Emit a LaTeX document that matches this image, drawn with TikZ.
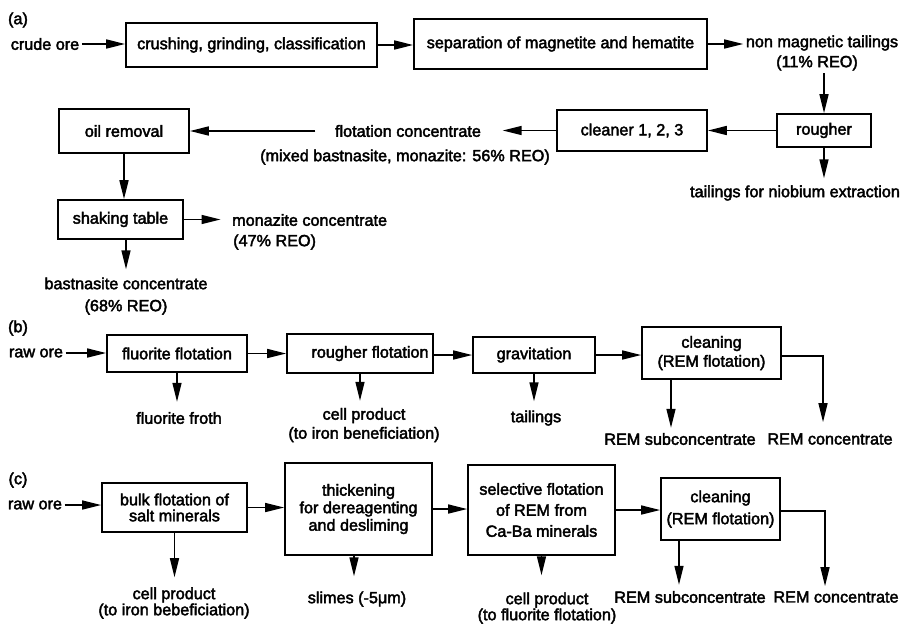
\documentclass[tikz,border=0pt]{standalone}
\usepackage{fontspec}
\setmainfont{Liberation Sans}[FakeBold=2.5]
\usetikzlibrary{arrows.meta}
\newcommand{\fs}[1]{\fontsize{16.2}{#1}\selectfont}
\begin{document}
\begin{tikzpicture}[x=1pt,y=-1pt,
  txt/.style={font=\fs{19}, inner sep=2.5pt, align=center},
  stage/.style={txt, draw, line width=1.7pt, inner sep=0pt},
  arr/.style={line width=1.5pt, -{Triangle[length=19pt,width=9pt]}}]
\fill[white] (0,0) rectangle (903,629);
\useasboundingbox (0,0) rectangle (903,629);

% ---------------- (a) ----------------
\node[txt] (la) at (18,20) {(a)};
\node[txt] (crude) at (45,44) {crude ore};
\node[stage, minimum width=251pt, minimum height=44pt] (a1) at (251.5,45) {crushing, grinding, classification};
\node[stage, minimum width=293pt, minimum height=50pt] (a2) at (560.5,44) {separation of magnetite and hematite};
\node[txt] (nmt1) at (822,43) {non magnetic tailings};
\node[txt] (nmt2) at (817,63) {(11\% REO)};
\node[stage, minimum width=94pt, minimum height=33pt] (a3) at (824,130.5) {rougher};
\node[txt] (nb) at (795,193) {tailings for niobium extraction};
\node[stage, minimum width=150pt, minimum height=41pt] (a4) at (632,130.5) {cleaner 1, 2, 3};
\node[txt] (fc1) at (408,131) {flotation concentrate};
\node[txt] (fc2) at (405,157) {(mixed bastnasite, monazite: 56\% REO)};
\node[stage, minimum width=130pt, minimum height=44pt] (a5) at (124,131) {oil removal};
\node[stage, minimum width=125pt, minimum height=39pt] (a6) at (120.5,219.5) {shaking table};
\node[txt, anchor=west] (mon1) at (229.5,220) {monazite concentrate};
\node[txt, anchor=west] (mon2) at (230.5,242) {(47\% REO)};
\node[txt, font=\fs{22}] (bas) at (126,296) {bastnasite concentrate\\(68\% REO)};

\draw[arr] (crude.east) -- (crude.east -| a1.west);
\draw[arr] (a1.east) -- (a1.east -| a2.west);
\draw[arr] (a2.east) -- (a2.east -| nmt1.west);
\draw[arr] (nmt2.south -| a3.north) -- (a3.north);
\draw[arr, shorten >=4.5pt] (a3.south) -- (a3.south |- nb.north);
\draw[arr] (a3.west) -- (a3.west -| a4.east);
\draw[arr, shorten >=19pt] (a4.west) -- (a4.west -| fc1.east);
\draw[arr, shorten <=17pt] (fc1.west) -- (fc1.west -| a5.east);
\draw[arr] (a5.south) -- (a5.south |- a6.north);
\draw[arr, shorten >=9pt] (a6.east) -- (a6.east -| mon1.west);
\draw[arr, shorten >=5.5pt] (a6.south -| bas.north) -- (bas.north);

% ---------------- (b) ----------------
\node[txt] (lb) at (18,328) {(b)};
\node[txt] (raw1) at (36,353) {raw ore};
\node[stage, minimum width=140pt, minimum height=37pt] (b1) at (177,353.5) {fluorite flotation};
\node[stage, minimum width=146pt, minimum height=39pt] (b2) at (360,353.5) {\hspace*{20pt}rougher flotation};
\node[stage, minimum width=122pt, minimum height=36pt] (b3) at (534,355) {gravitation};
\node[stage, minimum width=139pt, minimum height=52pt] (b4) at (711.5,353) {cleaning\\(REM flotation)};
\node[txt] (ff) at (179,418) {fluorite froth};
\node[txt] (cp1) at (364,425) {cell product\\(to iron beneficiation)};
\node[txt] (tail) at (536,418) {tailings};
\node[txt] (bsub) at (680,439) {REM subconcentrate};
\node[txt] (bcon) at (830,439) {REM concentrate};
\coordinate (bd) at (671,0);
\coordinate (br) at (823,356);

\draw[arr] (raw1.east) -- (raw1.east -| b1.west);
\draw[arr] (b1.east) -- (b1.east -| b2.west);
\draw[arr] (b3.west -| b2.east) -- (b3.west);
\draw[arr] (b3.east) -- (b3.east -| b4.west);
\draw[arr, shorten >=7.5pt] (b1.south) -- (b1.south |- ff.north);
\draw[arr, shorten >=4.5pt] (b2.south) -- (b2.south |- cp1.north);
\draw[arr, shorten >=6.5pt] (b3.south) -- (b3.south |- tail.north);
\draw[arr, shorten >=2.5pt] (b4.south -| bd) -- (bd |- bsub.north);
\draw[arr, shorten >=8.5pt] (b4.east |- br) -| (br |- bcon.north);

% ---------------- (c) ----------------
\node[txt] (lc) at (18,480) {(c)};
\node[txt] (raw2) at (35,505) {raw ore};
\node[stage, minimum width=145pt, minimum height=49pt, font=\fs{16}] (c1) at (174.5,507.5) {bulk flotation of\\salt minerals};
\node[stage, minimum width=147pt, minimum height=92pt, font=\fs{17.5}] (c2) at (358.5,509) {thickening\\for dereagenting\\and desliming};
\node[stage, minimum width=147pt, minimum height=90pt, font=\fs{21}] (c3) at (541.5,510) {selective flotation\\of REM from\\Ca-Ba minerals};
\node[stage, minimum width=119pt, minimum height=62pt, font=\fs{22}] (c4) at (720.5,509) {cleaning\\(REM flotation)};
\node[txt, font=\fs{15}] (cp2) at (174,603) {cell product\\(to iron bebeficiation)};
\node[txt] (slimes) at (357,599) {slimes (-5μm)};
\node[txt, font=\fs{16}] (cp3) at (547,608) {cell product\\(to fluorite flotation)};
\node[txt] (csub) at (690,597) {REM subconcentrate};
\node[txt] (ccon) at (836,597) {REM concentrate};
\coordinate (cd2) at (354,0);
\coordinate (cd4) at (679,0);
\coordinate (cr4) at (825,511);

\draw[arr] (raw2.east) -- (raw2.east -| c1.west);
\draw[arr] (c1.east) -- (c1.east -| c2.west);
\draw[arr] (c2.east) -- (c2.east -| c3.west);
\draw[arr] (c3.east) -- (c3.east -| c4.west);
\draw[arr, shorten >=7.5pt] (c1.south) -- (c1.south |- cp2.north);
\draw[arr, shorten >=12.5pt] (c2.south -| cd2) -- (cd2 |- slimes.north);
\draw[arr, shorten >=14.5pt] (c3.south) -- (c3.south |- cp3.north);
\draw[arr, shorten >=3.5pt] (c4.south -| cd4) -- (cd4 |- csub.north);
\draw[arr, shorten >=2.5pt] (c4.east |- cr4) -| (cr4 |- ccon.north);
\end{tikzpicture}
\end{document}
